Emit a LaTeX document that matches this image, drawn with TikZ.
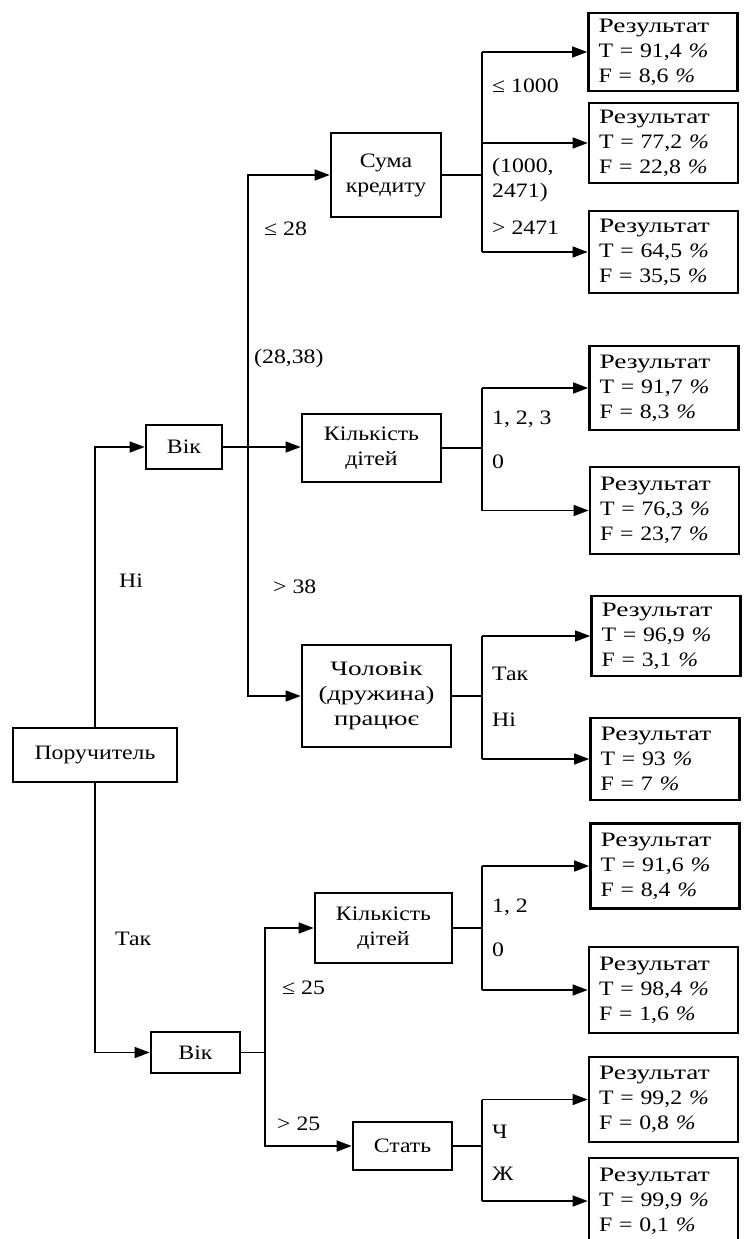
\documentclass[tikz,border=0pt]{standalone}
\usepackage{fontspec}
\usepackage{graphicx}
\setmainfont{Liberation Serif}[FakeStretch=1.16]
\usetikzlibrary{arrows.meta}
\newcommand{\pct}{\textit{\%}}
\newcommand{\restitle}{\scalebox{1.15}[1]{Результат}}
\begin{document}
\begin{tikzpicture}[x=1pt,y=-1pt,
  every node/.style={font=\fontsize{20.5}{25}\selectfont, inner sep=0pt},
  box/.style={draw, line width=2.7pt, align=center, inner sep=0pt},
  res/.style={draw, line width=2.7pt, align=left, text width=129pt, inner xsep=10pt, inner ysep=0pt, minimum width=149pt},
  lbl/.style={anchor=west, align=left},
  link/.style={line width=1.4pt},
  arr/.style={line width=1.4pt, -{Triangle[length=15pt,width=11pt]}}
]
\useasboundingbox (0,0) rectangle (744,1239);
\clip (0,0) rectangle (744,1239);

% decision nodes
\node[box, minimum width=164pt, minimum height=54pt] (P) at (95,755) {Поручитель};
\node[box, minimum width=76pt, minimum height=44pt] (V1) at (184,447) {Вік};
\node[box, minimum width=110pt, minimum height=84pt] (S) at (386,175) {Сума\\кредиту};
\node[box, minimum width=139pt, minimum height=68pt] (K1) at (371.5,448) {Кількість\\дітей};
\node[box, minimum width=149pt, minimum height=102pt] (Ch) at (376.5,696) {\scalebox{1.15}[1]{Чоловік}\\\scalebox{1.12}[1]{(дружина)}\\\scalebox{1.12}[1]{працює}};
\node[box, minimum width=89pt, minimum height=41pt] (V2) at (195.5,1052.5) {Вік};
\node[box, minimum width=137pt, minimum height=70pt] (K2) at (383.5,928) {Кількість\\дітей};
\node[box, minimum width=99pt, minimum height=48pt] (St) at (402.5,1146) {Стать};

% leaves
\node[res, minimum height=78pt] (R1) at (663,52) {\restitle\\T = 91,4 \pct\\F = 8,6 \pct};
\node[res, minimum height=80pt] (R2) at (663.5,143) {\restitle\\T = 77,2 \pct\\F = 22,8 \pct};
\node[res, minimum height=82pt] (R3) at (663.5,252) {\restitle\\T = 64,5 \pct\\F = 35,5 \pct};
\node[res, minimum height=84pt] (R4) at (664,388) {\restitle\\T = 91,7 \pct\\F = 8,3 \pct};
\node[res, minimum height=87pt] (R5) at (664.5,510.5) {\restitle\\T = 76,3 \pct\\F = 23,7 \pct};
\node[res, minimum height=80pt] (R6) at (666,636) {\restitle\\T = 96,9 \pct\\F = 3,1 \pct};
\node[res, minimum height=82pt] (R7) at (665,759) {\restitle\\T = 93 \pct\\F = 7 \pct};
\node[res, minimum height=85pt] (R8) at (665,866) {\restitle\\T = 91,6 \pct\\F = 8,4 \pct};
\node[res, minimum height=86pt] (R9) at (663.5,990) {\restitle\\T = 98,4 \pct\\F = 1,6 \pct};
\node[res, minimum height=85pt] (R10) at (663.5,1099.5) {\restitle\\T = 99,2 \pct\\F = 0,8 \pct};
\node[res, minimum height=86pt] (R11) at (663.5,1201) {\restitle\\T = 99,9 \pct\\F = 0,1 \pct};

% branching points
\coordinate (b1) at (248,447);
\coordinate (b2) at (265,1052.5);
\coordinate (sx) at (482,0);

% root
\draw[arr] (P.north) |- (V1.west);
\draw[arr] (P.south) |- (V2.west);

% upper age split
\draw[link] (V1.east) -- (b1);
\draw[arr] (b1) |- (S.west);
\draw[arr] (b1) |- (Ch.west);
\draw[arr] (b1) -- (b1 -| K1.west);

% credit sum
\draw[link] (S.east) -- (S.east -| sx);
\draw[link] (sx |- R1) -- (sx |- R3);
\draw[arr] (sx |- R1) -- (R1.west);
\draw[arr] (sx |- R2) -- (R2.west);
\draw[arr] (sx |- R3) -- (R3.west);

% children (upper)
\draw[link] (K1.east) -- (K1.east -| sx);
\draw[link] (sx |- R4) -- (sx |- R5);
\draw[arr] (sx |- R4) -- (R4.west);
\draw[arr] (sx |- R5) -- (R5.west);

% spouse works
\draw[link] (Ch.east) -- (Ch.east -| sx);
\draw[link] (sx |- R6) -- (sx |- R7);
\draw[arr] (sx |- R6) -- (R6.west);
\draw[arr] (sx |- R7) -- (R7.west);

% lower age split
\draw[link] (V2.east) -- (b2);
\draw[arr] (b2) |- (K2.west);
\draw[arr] (b2) |- (St.west);

% children (lower)
\draw[link] (K2.east) -- (K2.east -| sx);
\draw[link] (sx |- R8) -- (sx |- R9);
\draw[arr] (sx |- R8) -- (R8.west);
\draw[arr] (sx |- R9) -- (R9.west);

% sex
\draw[link] (St.east) -- (St.east -| sx);
\draw[link] (sx |- R10) -- (sx |- R11);
\draw[arr] (sx |- R10) -- (R10.west);
\draw[arr] (sx |- R11) -- (R11.west);

% edge labels
\node[lbl] (l1) at (492,86) {≤ 1000};
\node[lbl] (l2) at (492,180) {(1000,\\2471)};
\node[lbl] (l3) at (492,228) {> 2471};
\node[lbl] (l4) at (264,229) {≤ 28};
\node[lbl] (l5) at (254,359) {(28,38)};
\node[lbl] (l6) at (273,587) {> 38};
\node[lbl] (l7) at (119,581) {Ні};
\node[lbl] (l8) at (492,419) {1, 2, 3};
\node[lbl] (l9) at (492,462) {0};
\node[lbl] (l10) at (492,674) {Так};
\node[lbl] (l11) at (492,720) {Ні};
\node[lbl] (l12) at (492,907) {1, 2};
\node[lbl] (l13) at (492,950) {0};
\node[lbl] (l14) at (115,939) {Так};
\node[lbl] (l15) at (282,988) {≤ 25};
\node[lbl] (l16) at (277,1124) {> 25};
\node[lbl] (l17) at (492,1132) {Ч};
\node[lbl] (l18) at (492,1174) {Ж};
\end{tikzpicture}
\end{document}
